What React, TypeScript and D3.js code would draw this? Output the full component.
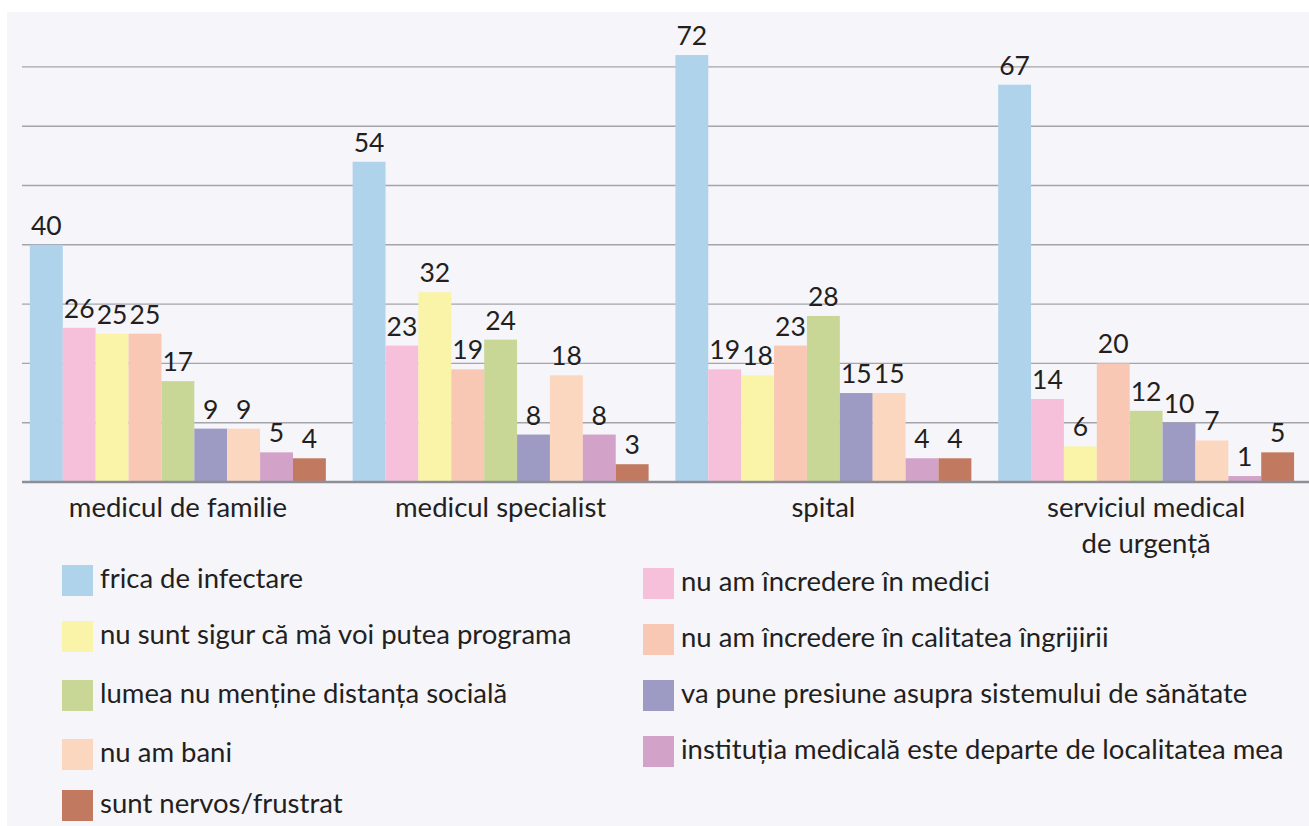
import React from "react";
import * as d3 from "d3";

const categories = [
  ["medicul de familie"],
  ["medicul specialist"],
  ["spital"],
  ["serviciul medical", "de urgență"],
];

const seriesNames = [
  "frica de infectare",
  "nu am încredere în medici",
  "nu sunt sigur că mă voi putea programa",
  "nu am încredere în calitatea îngrijirii",
  "lumea nu menține distanța socială",
  "va pune presiune asupra sistemului de sănătate",
  "nu am bani",
  "instituția medicală este departe de localitatea mea",
  "sunt nervos/frustrat",
];

const seriesColors = [
  "#b0d3ec",
  "#f6c0da",
  "#faf4a8",
  "#f8c8b4",
  "#c8d796",
  "#9d9bc4",
  "#fcd7c0",
  "#d2a2c8",
  "#c17a60",
];

// values[category][series]
const medicFamilie = [40, 26, 25, 25, 17, 9, 9, 5, 4];
const medicSpecialist = [54, 23, 32, 19, 24, 8, 18, 8, 3];
const spital = [72, 19, 18, 23, 28, 15, 15, 4, 4];
const urgenta = [67, 14, 6, 20, 12, 10, 7, 1, 5];
const values = [medicFamilie, medicSpecialist, spital, urgenta];

const gridTicks = [10, 20, 30, 40, 50, 60, 70];

const W = 1309;
const H = 826;
const FONT = "Lato, 'Open Sans', sans-serif";

export default function App() {
  const x0 = d3
    .scaleBand<number>()
    .domain(d3.range(categories.length))
    .range([16.5, 1307.5])
    .paddingInner(0.083)
    .paddingOuter(0.0415);
  const x1 = d3
    .scaleBand<number>()
    .domain(d3.range(seriesNames.length))
    .range([0, x0.bandwidth()]);
  const y = d3.scaleLinear().domain([0, 80]).range([482, 7.6]);

  const legendRowsLeft = [565, 621, 680, 739, 790];
  const legendRowsRight = [568, 624, 680, 736];

  return (
    <svg
      width={W}
      height={H}
      style={{ position: "absolute", left: 0, top: 0, background: "#ffffff" }}
      fontFamily={FONT}
    >
      <rect x={7} y={12} width={W - 7} height={H - 12} fill="#f5f5fa" />
      {gridTicks.map((t) => (
        <line
          key={t}
          x1={22}
          x2={W}
          y1={y(t)}
          y2={y(t)}
          stroke="#a4a4ab"
          strokeWidth={1.4}
        />
      ))}
      {values.map((row, ci) => (
        <g key={ci} transform={`translate(${x0(ci)},0)`}>
          {row.map((v, si) => (
            <rect
              key={si}
              x={x1(si)}
              y={y(v)}
              width={x1.bandwidth()}
              height={y(0) - y(v)}
              fill={seriesColors[si]}
            />
          ))}
          {row.map((v, si) => (
            <text
              key={"t" + si}
              x={(x1(si) as number) + x1.bandwidth() / 2}
              y={y(v) - 10}
              textAnchor="middle"
              fontSize={26.5}
              fill="#231f20"
            >
              {v}
            </text>
          ))}
        </g>
      ))}
      <line x1={22} x2={W} y1={y(0)} y2={y(0)} stroke="#8e8e96" strokeWidth={2.5} />
      {categories.map((lines, ci) => (
        <text
          key={ci}
          x={(x0(ci) as number) + x0.bandwidth() / 2}
          y={517}
          textAnchor="middle"
          fontSize={27.5}
          fill="#231f20"
        >
          {lines.map((l, li) => (
            <tspan key={li} x={(x0(ci) as number) + x0.bandwidth() / 2} dy={li === 0 ? 0 : 36}>
              {l}
            </tspan>
          ))}
        </text>
      ))}
      {seriesNames.map((name, si) => {
        const left = si % 2 === 0;
        const row = Math.floor(si / 2);
        const top = left ? legendRowsLeft[row] : legendRowsRight[row];
        const sx = left ? 62 : 643;
        return (
          <g key={si}>
            <rect x={sx} y={top} width={31} height={31} fill={seriesColors[si]} />
            <text x={sx + 38} y={top + 23} fontSize={27.5} fill="#231f20">
              {name}
            </text>
          </g>
        );
      })}
    </svg>
  );
}
